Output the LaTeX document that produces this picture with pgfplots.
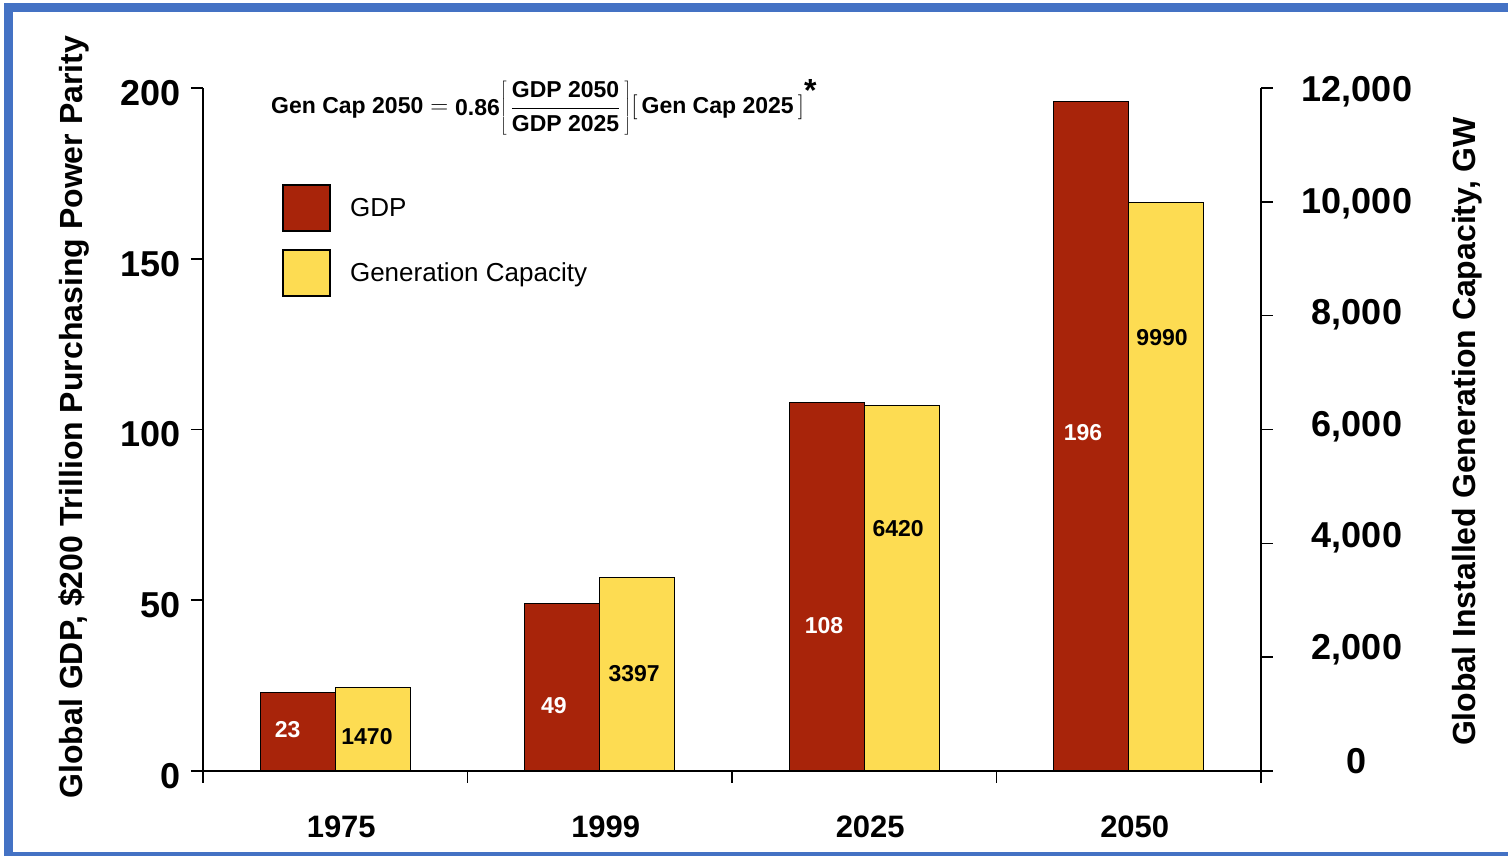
\documentclass[border=0pt]{standalone}
\usepackage{pgfplots}
\pgfplotsset{compat=1.18}
\usepackage{fontspec}
\setmainfont{Liberation Sans}
\definecolor{gdpred}{RGB}{168,36,10}
\definecolor{capyellow}{RGB}{253,220,82}
\definecolor{frameblue}{RGB}{68,114,196}
\newcommand{\fs}[1]{\fontsize{#1}{#1}\selectfont}
\begin{document}
\begin{tikzpicture}
\useasboundingbox (-203pt,-85pt) rectangle (1305pt,771pt);
\pgfplotsset{
  common/.style={
    width=1058pt, height=683pt, scale only axis,
    xmin=-0.5, xmax=3.5,
    axis line style={line width=1.6pt},
    tick style={line width=1.6pt, black},
    major tick length=12pt,
    /pgf/number format/assume math mode=true,
    clip=false,
  },
  biglegend/.style={legend image code/.code={\draw[##1, line width=1.8pt] (0pt,-23pt) rectangle (47pt,23pt);}},
}
\begin{axis}[common,
  axis x line*=bottom, axis y line*=left,
  tick align=outside,
  ymin=0, ymax=200, ytick={0,50,100,150,200},
  xtick={-0.5,0.5,1.5,2.5,3.5},
  x tick label as interval,
  xticklabels={1975,1999,2025,2050},
  xticklabel style={font=\fs{31}\bfseries, yshift=-29pt, xshift=6pt},
  yticklabel style={font=\fs{36}\bfseries, yshift=-5pt, xshift=-7pt},
  ylabel={Global GDP, \$200 Trillion Purchasing Power Parity},
  every axis y label/.style={at={(axis description cs:-0.122,0.518)}, rotate=90, anchor=center, font=\fs{32}\bfseries},
]
\addplot[ybar, bar width=0.284, bar shift=-0.142, fill=gdpred, draw=black, line width=1.2pt]
  coordinates {(0,23) (1,49) (2,108) (3,196)};
\begin{scope}[every node/.style={font=\fs{23}\bfseries, text=white}]
\node at (axis cs:-0.18,12.0) {23};
\node at (axis cs:0.827,19.3) {49};
\node at (axis cs:1.848,42.5) {108};
\node at (axis cs:2.827,99.0) {196};
\end{scope}
\node[anchor=base west, font=\fs{23}\bfseries, inner sep=0pt] at (rel axis cs:0.0643,0.962)
  {$\displaystyle\vcenter{\hbox{Gen Cap 2050}} = \vcenter{\hbox{0.86}}{\left[\,\frac{\hbox{GDP 2050}}{\hbox{GDP 2025}}\,\right]}\Bigg[\,\vcenter{\hbox{Gen Cap 2025}}\,\Bigg]^{\hbox{\fs{32}*}}$};
\end{axis}
\begin{axis}[common,
  axis x line=none, axis y line*=right,
  tick align=outside,
  ymin=0, ymax=12000, ytick={0,2000,4000,6000,8000,10000,12000},
  scaled y ticks=false,
  yticklabel style={font=\fs{36}\bfseries, anchor=center, xshift=84pt,
    yshift={(10-0.00116667*\tick)*1pt}},
  ylabel={Global Installed Generation Capacity, GW},
  every axis y label/.style={at={(axis description cs:1.1947,0.497)}, rotate=90, anchor=center, font=\fs{32}\bfseries},
  legend style={at={(rel axis cs:0.0747,0.859)}, anchor=north west, draw=none, fill=none, inner sep=0pt,
    row sep=17pt, font=\fs{26},
    /tikz/every odd column/.append style={column sep=17pt}},
  legend cell align=left,
]
\addlegendimage{fill=gdpred, draw=black, biglegend}
\addlegendentry{GDP}
\addplot[ybar, bar width=0.284, bar shift=0.142, fill=capyellow, draw=black, line width=1.2pt, biglegend]
  coordinates {(0,1470) (1,3397) (2,6420) (3,9990)};
\addlegendentry{Generation Capacity}
\begin{scope}[every node/.style={font=\fs{23}\bfseries, text=black}]
\node at (axis cs:0.120,600) {1470};
\node at (axis cs:1.130,1704) {3397};
\node at (axis cs:2.128,4254) {6420};
\node at (axis cs:3.126,7608) {9990};
\end{scope}
\end{axis}
\draw[frameblue, line width=9pt] (-194.2pt,-86pt) rectangle (1317pt,763pt);
\end{tikzpicture}
\end{document}
